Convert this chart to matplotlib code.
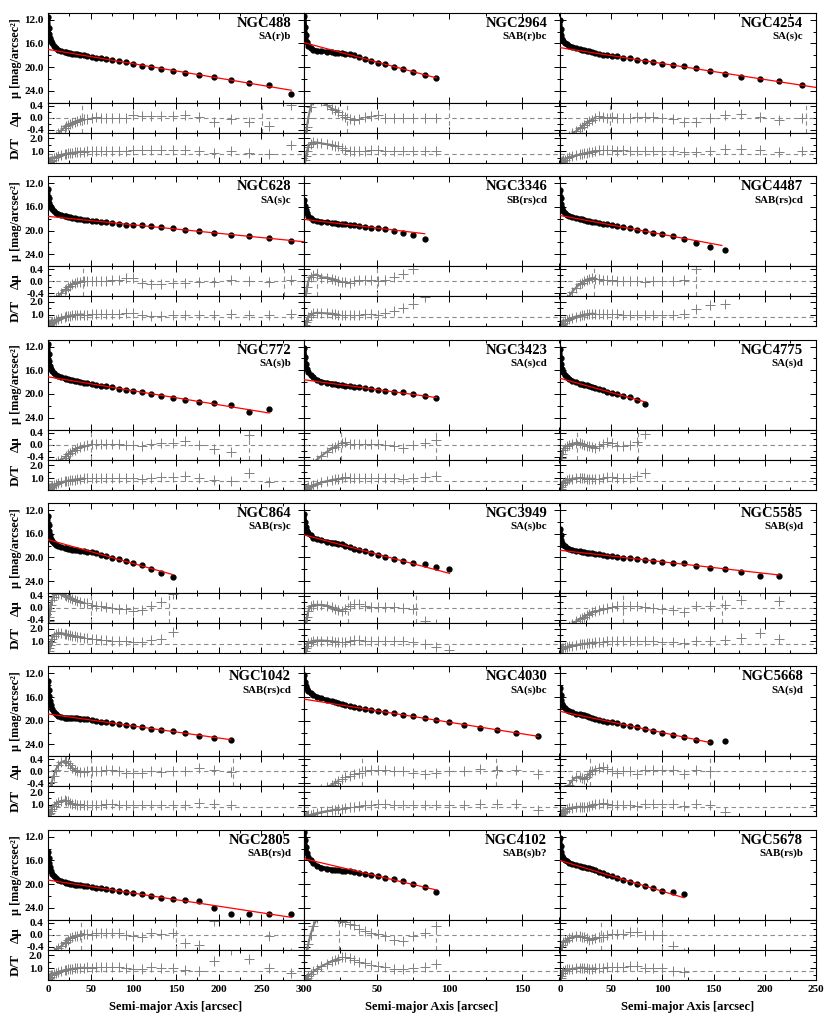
import numpy as np
import matplotlib.pyplot as plt
from matplotlib.ticker import MultipleLocator, FixedLocator, FuncFormatter

plt.rcParams['font.family'] = ['Liberation Serif', 'DejaVu Serif']
plt.rcParams['font.weight'] = 'bold'

# semi-major axis grid [arcsec]
radius = [0.3, 0.7, 1.2, 2, 3, 4.5, 6.5, 9, 12, 15.5, 19.5, 21.4, 23.6, 26, 28.5, 31.4,
          34.5, 38, 42, 46, 51, 56, 62, 68, 75, 83, 91, 100, 110, 121, 133, 146, 161,
          177, 195, 214, 236, 259, 285]

# ---- row 1 ----
mu_488 = [11.6, 13.3, 14.4, 15.1, 15.6, 16.0, 16.4, 16.75, 17.05, 17.3, 17.45, 17.52, 17.58, 17.64,
          17.7, 17.76, 17.82, 17.88, 17.95, 18.1, 18.23, 18.37, 18.5, 18.65, 18.82, 19.0, 19.2, 19.5,
          19.72, 20.0, 20.28, 20.6, 21.0, 21.3, 21.6, 22.15, 22.6, 23.0, 24.6]
dmu_488 = [-1.6, -1.4, -1.2, -1.0, -0.9, -0.8, -0.7, -0.6, -0.52, -0.42, -0.33, -0.28, -0.24, -0.2,
           -0.16, -0.13, -0.1, -0.07, -0.05, -0.03, 0.0, 0.02, 0.0, 0.0, 0.0, 0.0, -0.02, 0.09, 0.06,
           0.06, 0.06, 0.06, 0.08, 0.04, -0.13, -0.03, -0.13, -0.29, 0.42]
dt_488 = [0.1, 0.12, 0.15, 0.2, 0.27, 0.35, 0.45, 0.55, 0.65, 0.72, 0.77, 0.8, 0.83, 0.86, 0.88, 0.9,
          0.92, 0.95, 0.97, 1.0, 1.02, 1.03, 1.02, 1.02, 1.02, 1.02, 1.0, 1.12, 1.07, 1.07, 1.07, 1.07,
          1.08, 1.04, 0.88, 0.98, 0.88, 0.8, 1.5]

mu_2964 = [11.4, 13.2, 14.6, 15.7, 16.4, 16.8, 17.05, 17.2, 17.3, 17.38, 17.48, 17.53, 17.58, 17.63,
           17.7, 17.85, 18.02, 18.3, 18.62, 18.91, 19.27, 19.52, 19.89, 20.29, 20.76, 21.29, 21.81]
dmu_2964 = [-1.0, -0.8, -0.6, -0.3, 0.0, 0.35, 0.6, 0.65, 0.55, 0.42, 0.3, 0.25, 0.2, 0.1, 0.03,
            -0.05, -0.08, -0.03, 0.02, 0.05, 0.08, 0.0, -0.02, -0.02, 0.0, 0.0, 0.0]
dt_2964 = [0.05, 0.3, 0.6, 1.0, 1.35, 1.6, 1.7, 1.68, 1.62, 1.55, 1.48, 1.42, 1.37, 1.25, 1.12, 1.02,
           0.98, 1.0, 1.03, 1.07, 1.12, 1.04, 1.0, 1.0, 1.0, 1.0, 1.0]

mu_4254 = [12.0, 13.6, 14.6, 15.2, 15.55, 15.85, 16.1, 16.35, 16.55, 16.75, 16.95, 17.05, 17.15, 17.25,
           17.35, 17.45, 17.6, 17.75, 17.86, 17.94, 18.1, 18.19, 18.37, 18.53, 18.74, 18.95, 19.17,
           19.39, 19.63, 19.8, 20.13, 20.63, 21.13, 21.6, 21.99, 22.38, 23.05]
dmu_4254 = [-1.3, -1.2, -1.1, -1.0, -0.9, -0.8, -0.7, -0.6, -0.52, -0.45, -0.35, -0.3, -0.24, -0.18,
            -0.12, -0.06, 0.0, 0.05, 0.03, 0.0, 0.03, -0.02, 0.0, 0.0, 0.02, 0.02, 0.02, 0.0, -0.03,
            -0.15, -0.15, 0.0, 0.1, 0.14, 0.04, -0.08, 0.0]
dt_4254 = [0.1, 0.13, 0.17, 0.22, 0.28, 0.35, 0.43, 0.52, 0.6, 0.68, 0.75, 0.79, 0.83, 0.87, 0.92,
           0.97, 1.02, 1.07, 1.1, 1.08, 1.1, 1.05, 1.07, 1.05, 1.05, 1.05, 1.05, 1.03, 1.0, 0.93, 0.92,
           1.05, 1.18, 1.2, 1.1, 0.95, 1.05]

# ---- row 2 ----
mu_628 = [13.0, 14.5, 15.3, 15.8, 16.1, 16.4, 16.7, 16.95, 17.2, 17.4, 17.55, 17.62, 17.7, 17.78,
          17.86, 17.94, 18.02, 18.1, 18.2, 18.26, 18.33, 18.4, 18.49, 18.59, 18.71, 18.84, 19.0, 19.13,
          19.12, 19.25, 19.4, 19.64, 19.85, 20.11, 20.37, 20.71, 20.97, 21.26, 21.73]
dmu_628 = [-1.4, -1.2, -1.0, -0.9, -0.8, -0.7, -0.62, -0.55, -0.5, -0.4, -0.3, -0.25, -0.2, -0.15,
           -0.1, -0.07, -0.04, -0.02, 0.0, 0.0, 0.0, 0.0, 0.0, 0.02, 0.04, 0.05, 0.1, 0.1, -0.05, -0.08,
           -0.1, -0.05, -0.05, -0.02, -0.02, 0.05, 0.0, -0.04, 0.05]
dt_628 = [0.2, 0.22, 0.25, 0.3, 0.35, 0.42, 0.5, 0.6, 0.68, 0.76, 0.83, 0.86, 0.89, 0.92, 0.95, 0.97,
          0.99, 1.0, 1.0, 1.0, 1.02, 1.02, 1.02, 1.04, 1.05, 1.07, 1.12, 1.1, 0.95, 0.93, 0.92, 0.96,
          0.96, 1.0, 1.0, 1.05, 1.0, 0.97, 1.05]

mu_3346 = [14.8, 15.8, 16.5, 17.1, 17.5, 17.9, 18.2, 18.4, 18.5, 18.6, 18.75, 18.78, 18.81, 18.84,
           18.9, 19.0, 19.11, 19.24, 19.38, 19.5, 19.59, 19.79, 20.07, 20.34, 20.72, 21.43]
dmu_3346 = [-0.9, -0.6, -0.4, -0.2, 0.0, 0.15, 0.2, 0.22, 0.12, 0.12, 0.08, 0.05, 0.02, -0.02, -0.04,
            -0.05, 0.0, 0.03, 0.05, 0.05, 0.0, 0.05, 0.15, 0.25, 0.42, 0.9]
dt_3346 = [0.05, 0.2, 0.4, 0.6, 0.8, 1.0, 1.1, 1.15, 1.12, 1.1, 1.07, 1.04, 1.0, 0.97, 0.95, 0.95,
           0.98, 1.0, 1.02, 1.02, 1.0, 1.1, 1.25, 1.5, 1.8, 2.4]

mu_4487 = [13.1, 14.5, 15.5, 16.2, 16.7, 17.05, 17.3, 17.5, 17.7, 17.88, 18.0, 18.08, 18.2, 18.33,
           18.44, 18.55, 18.63, 18.74, 18.84, 18.97, 19.11, 19.26, 19.43, 19.63, 19.85, 20.09, 20.36,
           20.65, 20.97, 21.37, 22.11, 22.77, 23.3]
dmu_4487 = [-1.3, -1.2, -1.1, -1.0, -0.9, -0.75, -0.6, -0.5, -0.35, -0.22, -0.1, -0.05, 0.0, 0.05,
            0.08, 0.1, 0.08, 0.07, 0.05, 0.05, 0.03, 0.02, 0.0, 0.0, 0.0, -0.02, 0.0, 0.0, 0.0, 0.05,
            0.4, 0.65, 0.7]
dt_4487 = [0.1, 0.15, 0.22, 0.3, 0.38, 0.47, 0.56, 0.65, 0.75, 0.85, 0.93, 0.97, 1.0, 1.03, 1.05,
           1.07, 1.06, 1.05, 1.04, 1.04, 1.02, 1.02, 1.0, 1.0, 1.0, 0.98, 1.0, 1.0, 1.0, 1.05, 1.45,
           1.75, 1.85]

# ---- row 3 ----
mu_772 = [11.5, 13.2, 14.4, 15.3, 15.8, 16.2, 16.5, 16.8, 17.0, 17.2, 17.38, 17.46, 17.54, 17.62,
          17.7, 17.78, 17.87, 17.96, 18.1, 18.18, 18.3, 18.45, 18.6, 18.73, 18.9, 19.08, 19.25, 19.44,
          19.65, 19.99, 20.29, 20.6, 21.02, 21.28, 21.55, 21.9, 23.0, 22.6]
dmu_772 = [-1.5, -1.3, -1.1, -1.0, -0.9, -0.8, -0.7, -0.62, -0.55, -0.5, -0.45, -0.38, -0.33, -0.27,
           -0.22, -0.17, -0.12, -0.08, -0.04, -0.01, 0.02, 0.03, 0.03, 0.03, 0.03, 0.02, 0.0, -0.02,
           -0.05, 0.03, 0.05, 0.05, 0.12, 0.0, -0.15, -0.25, 0.33, -0.6]
dt_772 = [0.15, 0.17, 0.2, 0.25, 0.3, 0.37, 0.45, 0.53, 0.6, 0.67, 0.73, 0.76, 0.79, 0.82, 0.85, 0.88,
          0.91, 0.94, 0.97, 0.99, 1.02, 1.03, 1.03, 1.03, 1.03, 1.02, 1.0, 0.98, 0.96, 1.03, 1.05, 1.05,
          1.12, 1.0, 0.87, 0.78, 1.4, 0.65]

mu_3423 = [12.2, 13.8, 14.9, 15.7, 16.3, 16.8, 17.2, 17.6, 17.9, 18.1, 18.25, 18.32, 18.4, 18.51,
           18.64, 18.66, 18.77, 18.88, 19.02, 19.15, 19.31, 19.45, 19.6, 19.72, 20.08, 20.39, 20.75]
dmu_3423 = [-1.2, -1.1, -1.0, -0.9, -0.8, -0.7, -0.6, -0.5, -0.38, -0.25, -0.13, -0.08, -0.02, 0.05,
            0.1, 0.02, 0.03, 0.03, 0.03, 0.03, 0.03, 0.0, -0.05, -0.12, 0.0, 0.05, 0.15]
dt_3423 = [0.1, 0.13, 0.17, 0.22, 0.28, 0.36, 0.45, 0.55, 0.65, 0.75, 0.85, 0.89, 0.94, 1.0, 1.05,
           1.03, 1.04, 1.04, 1.04, 1.03, 1.03, 1.0, 0.97, 0.93, 1.0, 1.05, 1.18]

mu_4775 = [12.4, 14.0, 15.0, 15.8, 16.35, 16.8, 17.15, 17.45, 17.75, 18.05, 18.3, 18.38, 18.46, 18.55,
           18.67, 18.79, 18.91, 19.12, 19.4, 19.66, 19.85, 19.99, 20.28, 20.58, 21.05, 21.68]
dmu_4775 = [-0.8, -0.6, -0.45, -0.3, -0.18, -0.1, -0.05, 0.0, 0.03, 0.05, 0.05, 0.03, 0.0, -0.05,
            -0.05, -0.07, -0.1, -0.05, 0.03, 0.1, 0.05, -0.05, -0.05, -0.03, 0.1, 0.35]
dt_4775 = [0.05, 0.15, 0.3, 0.45, 0.6, 0.72, 0.82, 0.9, 0.95, 0.98, 1.0, 1.0, 0.98, 0.95, 0.95, 0.93,
           0.92, 0.95, 1.02, 1.08, 1.05, 0.97, 0.97, 0.98, 1.12, 1.38]

# ---- row 4 ----
mu_864 = [13.0, 14.5, 15.5, 16.3, 16.9, 17.3, 17.65, 17.95, 18.15, 18.3, 18.45, 18.5, 18.55, 18.62,
          18.68, 18.74, 18.8, 18.88, 18.97, 19.01, 19.16, 19.33, 19.55, 19.78, 20.03, 20.33, 20.63,
          20.94, 21.36, 21.94, 22.57, 23.35]
dmu_864 = [-0.6, -0.45, -0.3, -0.1, 0.1, 0.25, 0.38, 0.45, 0.47, 0.45, 0.42, 0.4, 0.37, 0.34, 0.3,
           0.27, 0.24, 0.2, 0.17, 0.15, 0.1, 0.07, 0.05, 0.03, 0.0, -0.02, -0.05, -0.1, -0.08, 0.05,
           0.2, 0.45]
dt_864 = [0.1, 0.25, 0.45, 0.7, 0.95, 1.2, 1.45, 1.6, 1.68, 1.65, 1.6, 1.57, 1.53, 1.5, 1.45, 1.42,
          1.38, 1.34, 1.3, 1.26, 1.2, 1.17, 1.13, 1.1, 1.07, 1.05, 1.02, 0.97, 0.95, 1.1, 1.2, 1.75]

mu_3949 = [12.7, 14.0, 14.9, 15.5, 15.95, 16.3, 16.65, 16.95, 17.15, 17.35, 17.49, 17.56, 17.66,
           17.79, 18.0, 18.29, 18.56, 18.79, 18.99, 19.23, 19.55, 19.86, 20.25, 20.62, 21.03, 21.15,
           21.6, 21.95]
dmu_3949 = [-0.9, -0.7, -0.5, -0.3, -0.1, 0.05, 0.1, 0.1, 0.1, 0.08, 0.02, -0.03, -0.07, -0.1, -0.05,
            0.05, 0.12, 0.12, 0.06, 0.04, 0.03, 0.02, 0.02, 0.0, -0.05, -0.45, -0.52, -0.75]
dt_3949 = [0.05, 0.25, 0.45, 0.65, 0.85, 0.98, 1.05, 1.07, 1.07, 1.05, 1.0, 0.97, 0.95, 0.93, 0.97,
           1.05, 1.1, 1.1, 1.06, 1.05, 1.05, 1.03, 1.03, 1.0, 0.98, 0.77, 0.6, 0.33]

mu_5585 = [15.2, 16.3, 17.0, 17.5, 17.85, 18.1, 18.35, 18.55, 18.72, 18.87, 19.0, 19.07, 19.14, 19.2,
           19.27, 19.34, 19.42, 19.5, 19.6, 19.7, 19.82, 19.94, 20.06, 20.18, 20.31, 20.44, 20.57,
           20.73, 20.87, 21.02, 21.44, 21.72, 22.04, 22.5, 23.15, 23.19]
dmu_5585 = [-1.3, -1.2, -1.1, -1.0, -0.9, -0.8, -0.7, -0.6, -0.52, -0.45, -0.38, -0.34, -0.3, -0.25,
            -0.2, -0.15, -0.1, -0.06, -0.03, 0.0, 0.03, 0.05, 0.05, 0.05, 0.05, 0.02, 0.0, -0.02,
            -0.08, -0.14, 0.05, 0.07, 0.1, 0.25, 0.55, 0.22]
dt_5585 = [0.4, 0.42, 0.44, 0.47, 0.5, 0.54, 0.58, 0.62, 0.67, 0.72, 0.77, 0.79, 0.81, 0.84, 0.86,
           0.89, 0.92, 0.95, 0.98, 1.0, 1.02, 1.05, 1.05, 1.05, 1.05, 1.02, 1.0, 0.98, 0.95, 0.9, 1.02,
           1.05, 1.1, 1.25, 1.65, 1.2]

# ---- row 5 ----
mu_1042 = [13.2, 14.8, 15.9, 16.7, 17.4, 18.0, 18.5, 18.9, 19.2, 19.4, 19.5, 19.55, 19.57, 19.58,
           19.6, 19.6, 19.6, 19.62, 19.68, 19.78, 19.88, 19.99, 20.13, 20.27, 20.4, 20.53, 20.65,
           20.83, 21.03, 21.31, 21.53, 21.81, 22.12, 22.56, 22.86, 23.17]
dmu_1042 = [-0.9, -0.85, -0.75, -0.62, -0.5, -0.35, -0.15, 0.05, 0.2, 0.3, 0.35, 0.33, 0.28, 0.2,
            0.12, 0.05, 0.0, -0.02, -0.02, 0.0, 0.0, 0.0, 0.02, 0.04, 0.03, 0.0, -0.05, -0.05, -0.05,
            0.0, -0.02, 0.0, 0.0, 0.12, 0.05, -0.02]
dt_1042 = [0.1, 0.15, 0.25, 0.38, 0.52, 0.7, 0.9, 1.08, 1.22, 1.3, 1.35, 1.33, 1.27, 1.18, 1.1, 1.04,
           1.0, 0.98, 0.98, 1.0, 1.0, 1.0, 1.02, 1.04, 1.05, 1.0, 0.96, 0.96, 0.96, 1.0, 0.98, 1.0,
           1.0, 1.12, 1.05, 0.97]

mu_4030 = [12.3, 13.5, 14.2, 14.7, 15.0, 15.35, 15.65, 15.95, 16.2, 16.45, 16.7, 16.83, 16.97, 17.12,
           17.28, 17.45, 17.64, 17.84, 17.99, 18.17, 18.39, 18.56, 18.77, 19.0, 19.23, 19.51, 19.85,
           20.25, 20.64, 21.14, 21.59, 22.09, 22.53]
dmu_4030 = [-1.2, -1.1, -1.0, -0.95, -0.9, -0.85, -0.8, -0.7, -0.6, -0.52, -0.45, -0.38, -0.32, -0.26,
            -0.2, -0.15, -0.1, -0.05, 0.0, 0.03, 0.05, 0.03, 0.0, 0.0, -0.05, -0.08, -0.05, 0.0, 0.0,
            0.07, 0.05, 0.05, -0.1]
dt_4030 = [0.05, 0.07, 0.1, 0.13, 0.17, 0.22, 0.28, 0.35, 0.42, 0.5, 0.58, 0.62, 0.66, 0.7, 0.75, 0.8,
           0.85, 0.92, 0.98, 1.02, 1.05, 1.03, 1.0, 1.0, 0.97, 0.95, 0.97, 1.0, 1.0, 1.08, 1.05, 1.05,
           0.62]

mu_5668 = [14.5, 15.7, 16.5, 17.1, 17.5, 17.85, 18.15, 18.4, 18.6, 18.8, 18.92, 18.95, 19.0, 19.16,
           19.35, 19.53, 19.69, 19.87, 20.06, 20.14, 20.24, 20.37, 20.63, 20.85, 21.0, 21.44, 21.73,
           22.05, 22.41, 22.66, 23.24, 23.66, 23.5]
dmu_5668 = [-1.2, -1.1, -1.0, -0.9, -0.8, -0.7, -0.58, -0.45, -0.3, -0.2, -0.18, -0.22, -0.25, -0.18,
            -0.08, 0.0, 0.05, 0.1, 0.15, 0.08, 0.0, -0.05, 0.0, 0.0, -0.1, 0.05, 0.05, 0.05, 0.05,
            -0.1, 0.05, 0.0, -0.7]
dt_5668 = [0.15, 0.2, 0.27, 0.35, 0.45, 0.55, 0.65, 0.72, 0.78, 0.83, 0.85, 0.82, 0.8, 0.83, 0.9,
           0.97, 1.03, 1.08, 1.12, 1.08, 1.0, 0.97, 1.0, 1.0, 0.93, 1.05, 1.05, 1.05, 1.05, 0.93, 1.05,
           1.0, 0.45]

# ---- row 6 ----
mu_2805 = [14.5, 15.6, 16.4, 17.1, 17.7, 18.2, 18.6, 18.95, 19.25, 19.5, 19.7, 19.78, 19.86, 19.93,
           20.0, 20.07, 20.13, 20.18, 20.25, 20.35, 20.43, 20.6, 20.72, 20.87, 21.0, 21.18, 21.31,
           21.48, 21.65, 22.04, 22.28, 22.58, 22.6, 22.86, 24.0, 25.0, 25.0, 24.97, 25.0]
dmu_2805 = [-1.5, -1.2, -1.0, -0.9, -0.8, -0.7, -0.6, -0.5, -0.44, -0.38, -0.28, -0.23, -0.17, -0.12,
            -0.08, -0.05, -0.03, 0.0, 0.02, 0.03, 0.0, 0.05, 0.05, 0.07, 0.05, 0.05, 0.0, -0.03, -0.08,
            0.07, 0.04, 0.05, -0.26, -0.35, 0.45, 0.97, 0.5, -0.03, -0.6]
dt_2805 = [0.15, 0.2, 0.27, 0.35, 0.43, 0.5, 0.58, 0.65, 0.72, 0.78, 0.84, 0.87, 0.9, 0.93, 0.96,
           0.98, 1.0, 1.02, 1.04, 1.06, 1.05, 1.08, 1.08, 1.1, 1.07, 1.06, 1.02, 0.97, 0.95, 1.1, 1.05,
           1.05, 0.87, 0.8, 1.6, 2.4, 1.7, 1.03, 0.6]

mu_4102 = [11.2, 12.6, 13.7, 14.7, 15.4, 16.0, 16.5, 16.9, 17.2, 17.4, 17.53, 17.59, 17.67, 17.71,
           17.75, 17.82, 18.02, 18.1, 18.26, 18.44, 18.68, 18.92, 19.12, 19.42, 20.0, 20.56, 21.28]
dmu_4102 = [-1.2, -0.9, -0.7, -0.5, -0.3, 0.0, 0.3, 0.55, 0.7, 0.75, 0.7, 0.62, 0.55, 0.47, 0.42,
            0.37, 0.32, 0.2, 0.12, 0.07, 0.02, -0.03, -0.18, -0.22, -0.05, 0.05, 0.3]
dt_4102 = [0.02, 0.08, 0.15, 0.25, 0.38, 0.55, 0.75, 0.95, 1.15, 1.35, 1.55, 1.65, 1.75, 1.9, 1.85,
           1.78, 1.67, 1.52, 1.4, 1.25, 1.15, 1.08, 0.97, 0.95, 1.03, 1.12, 1.3]

mu_5678 = [12.2, 13.6, 14.6, 15.2, 15.6, 15.9, 16.15, 16.35, 16.55, 16.75, 16.96, 17.04, 17.14, 17.23,
           17.32, 17.49, 17.69, 17.9, 18.12, 18.37, 18.67, 18.94, 19.25, 19.63, 19.99, 20.32, 20.73,
           21.19, 21.36, 21.69]
dmu_5678 = [-0.9, -0.7, -0.5, -0.35, -0.25, -0.2, -0.18, -0.12, -0.08, -0.04, -0.05, -0.07, -0.09,
            -0.12, -0.16, -0.14, -0.1, -0.08, -0.06, -0.02, 0.02, 0.03, 0.03, 0.09, 0.09, 0.0, -0.01,
            -0.01, -0.36, -0.6]
dt_5678 = [0.03, 0.2, 0.4, 0.6, 0.75, 0.85, 0.9, 0.93, 0.95, 1.0, 1.05, 1.05, 1.02, 1.0, 0.95, 0.97,
           1.0, 1.0, 1.03, 1.06, 1.08, 1.08, 1.08, 1.15, 1.2, 1.03, 1.02, 1.02, 0.76, 0.68]

# galaxy names / morphology, row by row
names = ['NGC488', 'NGC2964', 'NGC4254', 'NGC628', 'NGC3346', 'NGC4487',
         'NGC772', 'NGC3423', 'NGC4775', 'NGC864', 'NGC3949', 'NGC5585',
         'NGC1042', 'NGC4030', 'NGC5668', 'NGC2805', 'NGC4102', 'NGC5678']
morph = ['SA(r)b', 'SAB(r)bc', 'SA(s)c', 'SA(s)c', 'SB(rs)cd', 'SAB(rs)cd',
         'SA(s)b', 'SA(s)cd', 'SA(s)d', 'SAB(rs)c', 'SA(s)bc', 'SAB(s)d',
         'SAB(rs)cd', 'SA(s)bc', 'SA(s)d', 'SAB(rs)d', 'SAB(s)b?', 'SAB(rs)b']
mu_all = [mu_488, mu_2964, mu_4254, mu_628, mu_3346, mu_4487, mu_772, mu_3423, mu_4775,
          mu_864, mu_3949, mu_5585, mu_1042, mu_4030, mu_5668, mu_2805, mu_4102, mu_5678]
dmu_all = [dmu_488, dmu_2964, dmu_4254, dmu_628, dmu_3346, dmu_4487, dmu_772, dmu_3423, dmu_4775,
           dmu_864, dmu_3949, dmu_5585, dmu_1042, dmu_4030, dmu_5668, dmu_2805, dmu_4102, dmu_5678]
dt_all = [dt_488, dt_2964, dt_4254, dt_628, dt_3346, dt_4487, dt_772, dt_3423, dt_4775,
          dt_864, dt_3949, dt_5585, dt_1042, dt_4030, dt_5668, dt_2805, dt_4102, dt_5678]

# exponential disc fit: central surface brightness, slope [mag/arcsec], outer radius
disk_mu0 = [17.0, 15.85, 16.7, 17.6, 18.1, 17.45, 17.1, 17.6, 17.35,
            17.0, 16.2, 18.8, 18.85, 16.35, 18.4, 19.3, 15.7, 16.0]
disk_slope = [0.0242, 0.0655, 0.0269, 0.0143, 0.0293, 0.032, 0.0236, 0.033, 0.048,
              0.0404, 0.065, 0.0195, 0.0203, 0.039, 0.036, 0.0221, 0.058, 0.052]
disk_rmax = [285, 91, 250, 300, 83, 158, 259, 91, 83,
             146, 100, 214, 214, 161, 146, 285, 91, 121]
# fitting range markers in the residual panels
fit_rmin = [40, 29.5, 49, 41, 8.6, 33, 50, 25.6, 17, 50, 30, 62, 50, 40, 29, 39, 24, 40]
fit_rmax = [251, 100, 240, 276, 50, 133, 236, 91, 76, 142, 77, 158, 217, 132, 146, 150, 91, 100]

col_xmax = [300, 176, 250]

# ---------------- layout (pixels) ----------------
W, H = 830, 1024
col_left = [48, 304, 560]
col_w = 256
top0, pitch = 12.7, 163.4
h_main, h_res, h_dt = 90, 30, 30
GREY = '0.5'
DASH = dict(color='0.55', lw=0.8, dashes=(4, 3))


def box(x, y, w, h):
    return [x / W, 1 - (y + h) / H, w / W, h / H]


def style(ax, xmax, col):
    ax.set_xlim(0, xmax)
    ax.xaxis.set_major_locator(MultipleLocator(50))
    ax.xaxis.set_minor_locator(MultipleLocator(25))
    ax.tick_params(which='both', direction='in', top=True, right=True, labelsize=8,
                   width=0.7, pad=3)
    ax.tick_params(which='major', length=4)
    ax.tick_params(which='minor', length=2)
    for s in ax.spines.values():
        s.set_linewidth(0.8)
    ax.tick_params(labelbottom=False, labelleft=(col == 0))


fig = plt.figure(figsize=(W / 100, H / 100), dpi=100)

for k, name in enumerate(names):
    row, col = divmod(k, 3)
    xmax = col_xmax[col]
    x0 = col_left[col]
    top = top0 + row * pitch
    n = len(mu_all[k])
    r = np.array(radius[:n])
    mu = np.array(mu_all[k])
    dmu = np.array(dmu_all[k])
    dt = np.array(dt_all[k])
    ppu = col_w / xmax
    dense = r * 0.1 * ppu < 3.6  # points that merge into a continuous band

    # surface brightness profile
    ax = fig.add_axes(box(x0, top, col_w, h_main))
    ax.plot(r[dense], mu[dense], '-', color='k', lw=3.0, solid_capstyle='round')
    ax.plot(r, mu, 'o', color='k', ms=3.5)
    xx = np.array([0, disk_rmax[k]])
    ax.plot(xx, disk_mu0[k] + disk_slope[k] * xx, color='red', lw=0.9, zorder=4)
    ax.set_ylim(26.0, 10.8)
    ax.yaxis.set_major_locator(FixedLocator([12, 16, 20, 24]))
    ax.yaxis.set_minor_locator(MultipleLocator(2))
    ax.yaxis.set_major_formatter(FuncFormatter(lambda v, p: f'{v:.1f}'))
    style(ax, xmax, col)
    ax.text(0.95, 0.955, name, transform=ax.transAxes, ha='right', va='top',
            fontsize=10.5, fontweight='bold')
    ax.text(0.95, 0.79, morph[k], transform=ax.transAxes, ha='right', va='top',
            fontsize=7.8, fontweight='bold')
    if col == 0:
        fig.text(16 / W, 1 - (top + h_main / 2) / H, 'μ [mag/arcsec²]', rotation=90,
                 ha='center', va='center', fontsize=8.8, fontweight='bold')

    # residuals
    ax = fig.add_axes(box(x0, top + h_main, col_w, h_res))
    ax.axhline(0, **DASH)
    ax.axvline(fit_rmin[k], **DASH)
    ax.axvline(fit_rmax[k], **DASH)
    ax.plot(r[dense], dmu[dense], '-', color=GREY, lw=1.5)
    ax.plot(r, dmu, '+', color=GREY, ms=6.5, mew=0.7)
    ax.set_ylim(-0.5, 0.5)
    ax.yaxis.set_major_locator(FixedLocator([-0.4, 0.0, 0.4]))
    ax.yaxis.set_minor_locator(MultipleLocator(0.2))
    ax.yaxis.set_major_formatter(FuncFormatter(lambda v, p: f'{v:.1f}'))
    style(ax, xmax, col)
    if col == 0:
        fig.text(16 / W, 1 - (top + h_main + h_res / 2) / H, 'Δμ', rotation=90,
                 ha='center', va='center', fontsize=9.5, fontweight='bold')

    # disc-to-total
    ax = fig.add_axes(box(x0, top + h_main + h_res, col_w, h_dt))
    ax.axhline(0.8, **DASH)
    ax.plot(r[dense], dt[dense], '-', color=GREY, lw=1.5)
    ax.plot(r, dt, '+', color=GREY, ms=6.5, mew=0.7)
    ax.set_ylim(0.1, 2.45)
    ax.yaxis.set_major_locator(FixedLocator([1.0, 2.0]))
    ax.yaxis.set_minor_locator(MultipleLocator(0.5))
    ax.yaxis.set_major_formatter(FuncFormatter(lambda v, p: f'{v:.1f}'))
    style(ax, xmax, col)
    if col == 0:
        fig.text(16 / W, 1 - (top + h_main + h_res + h_dt / 2) / H, 'D/T', rotation=90,
                 ha='center', va='center', fontsize=9.5, fontweight='bold')
    if row == 5:
        ax.tick_params(labelbottom=True, pad=4)
        if col == 1:
            ax.xaxis.set_major_formatter(FuncFormatter(lambda v, p: '' if v == 0 else f'{v:.0f}'))
        else:
            ax.xaxis.set_major_formatter(FuncFormatter(lambda v, p: f'{v:.0f}'))
        fig.text((x0 + col_w / 2) / W, 1 - 1007 / H, 'Semi-major Axis [arcsec]',
                 ha='center', va='center', fontsize=9, fontweight='bold')

fig.savefig('out.png', dpi=100)
